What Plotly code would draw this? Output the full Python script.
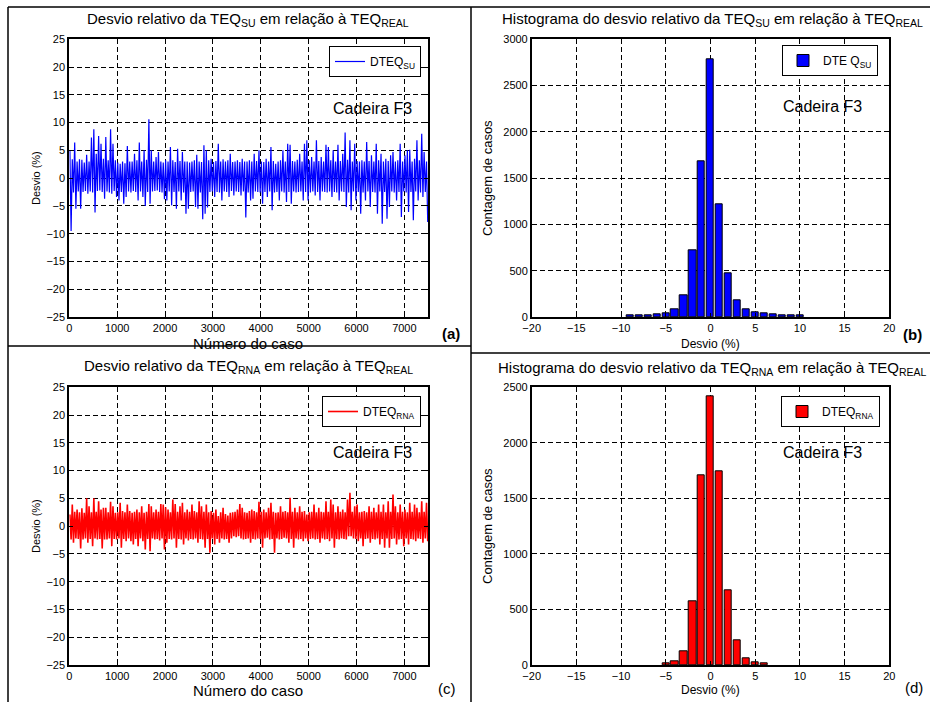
import plotly.graph_objects as go

W, H = 930, 702

# ---------------- data ----------------
CASES_PER_BIN = 50  # each pair (hi, lo) summarises 50 consecutive cases (7500 cases)

su_hi = [5.0, 3.4, 6.4, 3.0, 3.4, 3.3, 2.8, 4.2, 3.0, 7.3,
         8.8, 4.4, 7.6, 6.2, 3.5, 7.4, 3.2, 8.8, 6.2, 3.2,
         2.8, 2.6, 3.0, 2.7, 5.8, 3.0, 3.0, 4.4, 3.2, 6.4,
         3.0, 5.0, 3.3, 10.6, 5.0, 3.0, 3.8, 4.7, 3.0, 2.8,
         3.2, 3.0, 5.6, 3.2, 2.9, 5.3, 3.1, 4.7, 3.0, 3.0,
         2.8, 3.0, 3.2, 4.2, 3.0, 2.9, 5.9, 5.0, 3.2, 3.5,
         2.9, 3.1, 6.2, 3.0, 3.4, 3.0, 3.2, 4.4, 2.9, 3.0,
         3.2, 2.9, 3.5, 3.0, 3.0, 3.2, 3.0, 4.4, 3.1, 5.0,
         3.0, 2.9, 3.5, 3.0, 5.6, 3.1, 2.6, 3.0, 3.2, 5.0,
         3.0, 6.2, 6.0, 3.1, 3.0, 3.3, 4.4, 3.0, 6.2, 6.8,
         3.2, 3.8, 3.0, 6.8, 3.1, 3.8, 3.0, 6.0, 5.6, 3.2,
         5.0, 3.0, 6.0, 3.1, 4.4, 8.2, 3.3, 6.8, 3.0, 6.2,
         3.1, 3.0, 3.2, 3.0, 6.5, 3.1, 4.1, 3.0, 6.2, 3.2,
         4.4, 3.0, 3.5, 3.1, 4.1, 4.7, 3.0, 3.2, 6.2, 3.0,
         4.1, 5.0, 5.1, 3.0, 3.5, 6.8, 3.2, 8.0, 4.7, 3.0]
su_lo = [-9.5, -2.6, -5.5, -2.4, -5.5, -2.5, -2.3, -2.8, -2.4, -2.6,
         -6.2, -2.3, -2.2, -2.5, -3.7, -2.4, -2.6, -2.8, -2.3, -3.4,
         -4.0, -2.5, -4.6, -3.4, -2.4, -2.6, -2.3, -2.5, -4.0, -2.4,
         -3.4, -5.0, -2.5, -4.6, -2.4, -2.3, -2.2, -2.5, -2.6, -3.8,
         -4.0, -2.4, -4.9, -2.5, -5.5, -2.4, -4.0, -2.6, -6.4, -5.5,
         -2.5, -2.4, -5.2, -5.5, -2.6, -7.4, -6.4, -5.3, -2.5, -2.4,
         -3.4, -2.5, -2.6, -4.0, -2.4, -2.5, -3.4, -2.3, -3.1, -2.4,
         -2.5, -3.1, -2.4, -7.1, -2.6, -4.0, -3.7, -2.4, -2.5, -2.6,
         -4.6, -2.5, -3.4, -2.4, -5.8, -2.6, -2.5, -4.0, -2.4, -2.6,
         -4.3, -2.5, -4.6, -2.4, -2.6, -2.5, -2.4, -4.0, -2.5, -4.0,
         -2.6, -2.4, -3.1, -2.5, -4.0, -2.4, -2.5, -2.6, -2.4, -3.4,
         -2.5, -2.6, -4.0, -2.4, -2.5, -5.2, -2.6, -5.8, -2.4, -4.0,
         -2.5, -6.4, -2.6, -4.0, -2.4, -5.2, -2.5, -2.6, -6.4, -2.4,
         -8.2, -2.5, -7.3, -5.2, -2.4, -2.6, -4.0, -2.5, -7.0, -2.4,
         -2.6, -6.1, -2.5, -7.6, -2.4, -4.0, -2.6, -3.4, -2.5, -7.9]

rna_hi = [2.1, 3.9, 2.6, 3.0, 2.5, 3.2, 2.4, 5.0, 3.6, 2.5,
          5.0, 2.6, 4.5, 3.0, 3.3, 3.3, 2.5, 4.4, 3.6, 2.4,
          2.5, 4.2, 2.7, 2.5, 3.9, 2.7, 2.4, 2.6, 3.0, 2.5,
          3.6, 2.4, 2.6, 4.0, 3.6, 2.5, 3.0, 2.6, 4.0, 3.9,
          3.4, 3.0, 2.5, 4.8, 4.0, 2.6, 3.6, 4.2, 2.5, 3.0,
          2.6, 3.9, 2.7, 2.5, 4.5, 3.6, 2.6, 3.9, 2.5, 2.7,
          2.4, 3.0, 1.8, 2.5, 3.3, 2.2, 1.9, 2.4, 2.5, 2.6,
          3.0, 4.0, 3.3, 2.5, 2.4, 2.7, 3.0, 2.7, 2.5, 4.4,
          2.6, 3.0, 2.5, 3.3, 4.2, 2.6, 2.4, 2.5, 3.6, 2.6,
          2.7, 2.5, 5.1, 2.6, 3.3, 2.5, 3.6, 2.6, 2.7, 2.1,
          2.5, 2.6, 3.9, 2.5, 3.3, 2.6, 2.5, 4.5, 2.6, 4.8,
          3.9, 2.5, 3.6, 2.6, 3.0, 2.5, 4.8, 6.0, 2.6, 3.6,
          3.9, 2.5, 2.6, 2.7, 2.5, 3.6, 2.6, 3.3, 2.5, 3.9,
          2.6, 3.9, 2.5, 4.5, 2.6, 5.7, 3.6, 2.5, 3.9, 2.6,
          3.0, 2.5, 4.2, 2.6, 3.9, 3.3, 2.5, 4.5, 2.6, 4.2]
rna_lo = [-2.4, -3.0, -2.2, -2.3, -4.0, -2.4, -2.2, -3.0, -2.3, -3.6,
          -2.2, -2.4, -2.3, -4.0, -2.4, -2.4, -2.2, -3.6, -2.3, -2.4,
          -2.2, -3.9, -2.3, -2.7, -2.2, -2.7, -3.3, -2.3, -3.6, -2.2,
          -2.7, -4.2, -2.3, -4.5, -2.2, -2.4, -2.3, -2.6, -2.2, -4.2,
          -3.0, -2.3, -2.4, -2.2, -3.9, -2.3, -2.4, -3.3, -2.2, -2.6,
          -2.3, -2.4, -2.2, -3.0, -2.3, -2.4, -3.9, -2.3, -4.8, -2.2,
          -3.3, -2.3, -3.0, -2.2, -2.4, -2.3, -3.0, -2.2, -1.8, -2.0,
          -1.8, -2.2, -2.4, -2.3, -2.2, -3.0, -2.3, -2.4, -2.2, -2.3,
          -3.9, -2.2, -2.1, -2.4, -2.3, -4.8, -2.2, -2.4, -2.3, -2.1,
          -2.2, -3.0, -2.3, -3.9, -2.2, -2.4, -2.3, -2.7, -2.2, -2.7,
          -2.3, -2.2, -2.4, -2.3, -3.0, -2.2, -2.4, -2.3, -2.7, -2.2,
          -3.9, -2.3, -2.4, -2.2, -2.3, -2.4, -1.8, -1.8, -2.2, -2.3,
          -2.7, -2.2, -3.6, -2.3, -2.2, -3.0, -2.3, -2.4, -2.2, -3.3,
          -2.3, -3.9, -2.2, -3.9, -2.3, -2.2, -3.3, -2.4, -2.3, -3.6,
          -2.2, -3.3, -2.3, -2.4, -2.7, -2.2, -2.3, -3.0, -2.2, -2.7]

hist_su_centers = [-9, -8, -7, -6, -5, -4, -3, -2, -1, 0, 1, 2, 3, 4, 5, 6, 7, 8, 9, 10]
hist_su_counts = [15, 18, 20, 32, 43, 86, 237, 721, 1683, 2785, 1213, 470, 183, 83, 54, 43, 32, 18, 18, 15]

hist_rna_centers = [-5, -4, -3, -2, -1, 0, 1, 2, 3, 4, 5, 6]
hist_rna_counts = [15, 36, 126, 576, 1710, 2421, 1746, 675, 222, 63, 24, 15]

x_ticks_case = [0, 1000, 2000, 3000, 4000, 5000, 6000, 7000]
y_ticks_dev = [-25, -20, -15, -10, -5, 0, 5, 10, 15, 20, 25]
x_ticks_hist = [-20, -15, -10, -5, 0, 5, 10, 15, 20]
y_ticks_su = [0, 500, 1000, 1500, 2000, 2500, 3000]
y_ticks_rna = [0, 500, 1000, 1500, 2000, 2500]


def zigzag(hi, lo, step):
    xs, ys = [], []
    for i, (h, l) in enumerate(zip(hi, lo)):
        xs += [i * step + step * 0.25, i * step + step * 0.75]
        ys += [h, l]
    return xs, ys


def px(x):
    return x / W


def py(y):
    return 1 - y / H


FONT = "Liberation Sans, Arial, sans-serif"

fig = go.Figure()

xa, ya = zigzag(su_hi, su_lo, CASES_PER_BIN)
fig.add_trace(go.Scatter(x=xa, y=ya, mode="lines", line=dict(color="#0000FF", width=1.2),
                         name="DTEQ<sub>SU</sub>", xaxis="x", yaxis="y", legend="legend"))
fig.add_trace(go.Bar(x=hist_su_centers, y=hist_su_counts, width=0.8,
                     marker=dict(color="#0000FF", line=dict(color="black", width=1)),
                     name="DTE Q<sub>SU</sub>", xaxis="x2", yaxis="y2", legend="legend2"))
xc, yc = zigzag(rna_hi, rna_lo, CASES_PER_BIN)
fig.add_trace(go.Scatter(x=xc, y=yc, mode="lines", line=dict(color="#FF0000", width=1.6),
                         name="DTEQ<sub>RNA</sub>", xaxis="x3", yaxis="y3", legend="legend3"))
fig.add_trace(go.Bar(x=hist_rna_centers, y=hist_rna_counts, width=0.8,
                     marker=dict(color="#FF0000", line=dict(color="black", width=1)),
                     name="DTEQ<sub>RNA</sub>", xaxis="x4", yaxis="y4", legend="legend4"))


def axis(dom, rng, tickvals, lw, anchor):
    return dict(domain=dom, range=rng, tickvals=tickvals, showline=True, linecolor="black",
                linewidth=lw, mirror="ticks", ticks="inside", ticklen=4, tickcolor="black",
                showgrid=True, gridcolor="black", griddash="5px,3px", gridwidth=1,
                zeroline=False, tickfont=dict(family=FONT, size=11, color="black"),
                anchor=anchor, fixedrange=True, automargin=False)


L_x = [px(69.3), px(428.3)]
R_x = [px(531.7), px(889.3)]
T_y = [py(317), py(39.3)]
B_y = [py(665), py(387.3)]

legend_common = dict(bordercolor="black", borderwidth=1, bgcolor="white",
                     font=dict(family=FONT, size=12, color="black"),
                     xanchor="right", yanchor="top", itemwidth=30, tracegroupgap=0)

fig.update_layout(
    template="none",
    width=W, height=H, margin=dict(l=0, r=0, t=0, b=0, pad=0, autoexpand=False),
    paper_bgcolor="white", plot_bgcolor="white", showlegend=True, bargap=0,
    xaxis=axis(L_x, [0, 7500], x_ticks_case, 2, "y"),
    yaxis=axis(T_y, [-25, 25], y_ticks_dev, 2, "x"),
    xaxis2=axis(R_x, [-20, 20], x_ticks_hist, 1.5, "y2"),
    yaxis2=axis(T_y, [0, 3000], y_ticks_su, 1.5, "x2"),
    xaxis3=axis(L_x, [0, 7500], x_ticks_case, 2, "y3"),
    yaxis3=axis(B_y, [-25, 25], y_ticks_dev, 2, "x3"),
    xaxis4=axis(R_x, [-20, 20], x_ticks_hist, 1.5, "y4"),
    yaxis4=axis(B_y, [0, 2500], y_ticks_rna, 1.5, "x4"),
    legend=dict(x=px(421), y=py(46), **legend_common),
    legend2=dict(x=px(878), y=py(45), **legend_common),
    legend3=dict(x=px(421), y=py(396), **legend_common),
    legend4=dict(x=px(880), y=py(396), **legend_common),
)

annotations = []


def ann(text, x, y, size, angle=0, bold=False):
    annotations.append(dict(text=("<b>%s</b>" % text) if bold else text, x=px(x), y=py(y),
                            xref="paper", yref="paper", showarrow=False, textangle=angle,
                            xanchor="center", yanchor="middle",
                            font=dict(family=FONT, size=size, color="black")))


ann("Desvio relativo da TEQ<sub>SU</sub> em relação à TEQ<sub>REAL</sub>", 248, 19, 15)
ann("Histograma do desvio relativo da TEQ<sub>SU</sub> em relação à TEQ<sub>REAL</sub>", 712, 19, 15)
ann("Desvio relativo da TEQ<sub>RNA</sub> em relação à TEQ<sub>REAL</sub>", 248, 366, 15)
ann("Histograma do desvio relativo da TEQ<sub>RNA</sub> em relação à TEQ<sub>REAL</sub>", 712, 368, 15)

ann("Número do caso", 248, 343, 15)
ann("Número do caso", 248, 690, 15)
ann("Desvio (%)", 710, 344, 12)
ann("Desvio (%)", 710, 690, 12)
ann("Desvio (%)", 36, 178, 11, angle=-90)
ann("Desvio (%)", 36, 526, 11, angle=-90)
ann("Contagem de casos", 487, 178, 13, angle=-90)
ann("Contagem de casos", 487, 526, 13, angle=-90)

ann("Cadeira F3", 372, 108, 16)
ann("Cadeira F3", 822, 107, 16)
ann("Cadeira F3", 372, 452, 16)
ann("Cadeira F3", 822, 452, 16)

ann("(a)", 451, 333, 15, bold=True)
ann("(b)", 912, 335, 15, bold=True)
ann("(c)", 447, 688, 15)
ann("(d)", 914, 687, 15)

fig.update_layout(annotations=annotations)

shapes = []
for (x0, y0, x1, y1) in [(8, 7, 8, 702), (8, 7, 930, 7), (471, 7, 471, 702),
                         (8, 346, 471, 346), (471, 353, 930, 353)]:
    shapes.append(dict(type="line", xref="paper", yref="paper", x0=px(x0), y0=py(y0),
                       x1=px(x1), y1=py(y1), line=dict(color="black", width=1.5)))
fig.update_layout(shapes=shapes)

fig.write_html("out.html")
